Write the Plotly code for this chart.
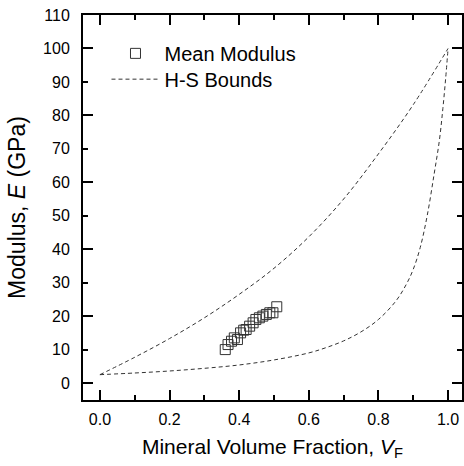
import plotly.graph_objects as go

# Mean modulus measurements
vf_mean = [0.360, 0.368, 0.378, 0.386, 0.395, 0.404, 0.413, 0.420, 0.430,
           0.440, 0.448, 0.458, 0.468, 0.478, 0.488, 0.497, 0.508]
e_mean = [10.0, 11.5, 12.5, 13.5, 13.0, 15.0, 15.8, 16.0, 17.0,
          18.0, 19.0, 19.5, 20.0, 20.5, 21.0, 21.0, 22.8]

# Hashin-Shtrikman upper bound
vf_upper = [0.0, 0.1, 0.2, 0.3, 0.4, 0.5, 0.6, 0.7, 0.8, 0.9, 1.0]
e_upper = [2.5, 7.7, 13.3, 19.5, 26.5, 34.3, 43.7, 55.0, 68.5, 83.2, 100.0]

# Hashin-Shtrikman lower bound
vf_lower = [0.0, 0.1, 0.2, 0.3, 0.4, 0.5, 0.6, 0.65, 0.7, 0.75, 0.8, 0.85,
            0.88, 0.9, 0.92, 0.94, 0.96, 0.975, 0.985, 0.993, 1.0]
e_lower = [2.5, 3.0, 3.6, 4.4, 5.4, 6.9, 9.0, 10.6, 12.6, 15.3, 19.0, 24.5,
           29.5, 34.0, 40.5, 50.0, 62.5, 72.5, 82.0, 91.0, 100.0]

FONT = "Liberation Sans, Arial, sans-serif"
X_RANGE = [-0.0486, 1.04]
Y_RANGE = [-5.07, 110]
LINE = "#333333"
BOUND_STYLE = dict(color=LINE, width=1, dash="4px,3px", shape="spline", smoothing=1.0)

fig = go.Figure()

fig.add_trace(go.Scatter(
    x=vf_mean, y=e_mean, mode="markers", name="Mean Modulus",
    xaxis="x", yaxis="y", legend="legend",
    marker=dict(symbol="square-open", size=10, color=LINE,
                line=dict(width=1, color=LINE)),
))

# upper bound on the overlay axes (carries the legend entry)
fig.add_trace(go.Scatter(
    x=vf_upper, y=e_upper, mode="lines", name="H-S Bounds",
    xaxis="x2", yaxis="y2", legend="legend2", line=BOUND_STYLE,
))

fig.add_trace(go.Scatter(
    x=vf_lower, y=e_lower, mode="lines", name="H-S Bounds",
    xaxis="x", yaxis="y", line=BOUND_STYLE, showlegend=False,
))

axis_common = dict(showgrid=False, zeroline=False, showline=True, linewidth=2,
                   linecolor="black", mirror="ticks", ticks="inside",
                   tickwidth=2, tickcolor="black")
legend_common = dict(x=0.062, xanchor="left", yanchor="top",
                     bgcolor="rgba(0,0,0,0)", font=dict(size=20), itemwidth=48)

fig.update_layout(
    width=464, height=466,
    margin=dict(l=83, r=0, t=15, b=66),
    paper_bgcolor="white", plot_bgcolor="white",
    font=dict(family=FONT, size=16, color="black"),
    showlegend=True,
    legend=dict(y=0.951, **legend_common),
    legend2=dict(y=0.884, **legend_common),
    # major x ticks with labels
    xaxis=dict(
        range=X_RANGE, ticklen=10, tick0=0, dtick=0.2, tickformat=".1f",
        ticklabelstandoff=4, tickfont=dict(size=16),
        title=dict(text="Mineral Volume Fraction, <i>V</i><sub>F</sub>",
                   font=dict(size=21), standoff=12),
        **axis_common,
    ),
    # minor x ticks
    xaxis2=dict(
        overlaying="x", anchor="y", side="bottom", range=X_RANGE,
        ticklen=5, tick0=0, dtick=0.1, showticklabels=False,
        **axis_common,
    ),
    # major y ticks
    yaxis=dict(
        range=Y_RANGE, ticklen=10, tick0=0, dtick=20, showticklabels=False,
        **axis_common,
    ),
    # minor y ticks with labels
    yaxis2=dict(
        overlaying="y", anchor="x", side="left", range=Y_RANGE,
        ticklen=5, tick0=0, dtick=10, ticklabelstandoff=8,
        tickfont=dict(size=16),
        title=dict(text="Modulus, <i>E</i> (GPa)", font=dict(size=23), standoff=11),
        **axis_common,
    ),
)

fig.write_html("out.html")
